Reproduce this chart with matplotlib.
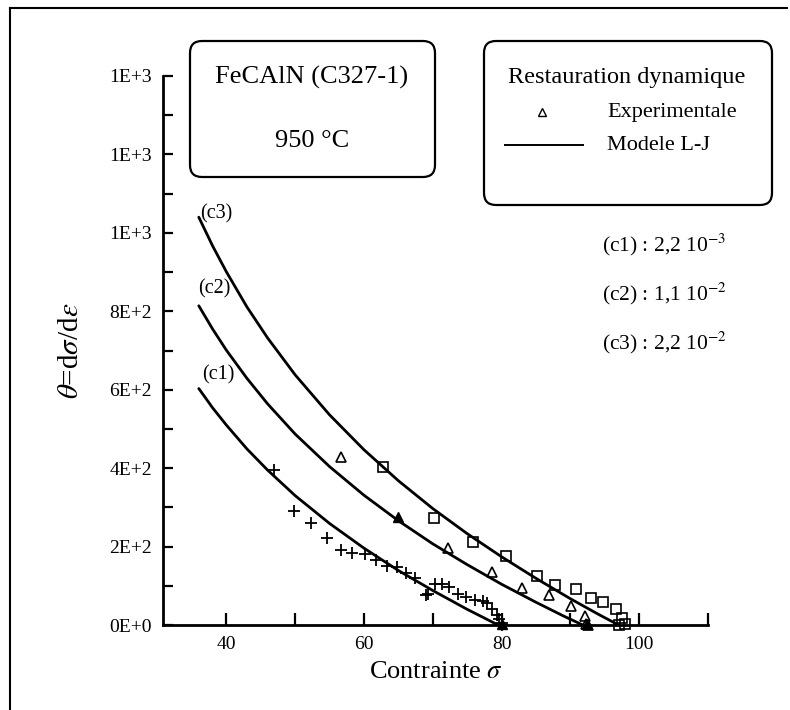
import matplotlib
matplotlib.use('Agg')
import matplotlib.pyplot as plt
from matplotlib.patches import FancyBboxPatch
from matplotlib.lines import Line2D

plt.rcParams['font.family'] = ['Liberation Serif', 'DejaVu Serif']
plt.rcParams['mathtext.fontset'] = 'stix'

# model curves (Laasraoui-Jonas)
c1_x = [36, 38, 40, 43, 46, 50, 55, 60, 65, 70, 75, 79.5]
c1_y = [603, 554, 510, 449, 395, 330, 259, 196, 139, 88, 40, 0]
c2_x = [36, 38, 40, 43, 46, 50, 55, 60, 65, 70, 75, 80, 85, 89, 91.8]
c2_y = [814, 755, 701, 629, 564, 487, 404, 331, 266, 207, 154, 104, 58, 23, 0]
c3_x = [36, 38, 40, 43, 46, 50, 55, 60, 65, 70, 75, 80, 85, 90, 94, 97]
c3_y = [1040, 967, 901, 811, 732, 638, 536, 447, 368, 297, 233, 174, 119, 67, 28, 0]

# experimental points
cross_x = [47.0, 49.9, 52.3, 54.6, 56.6, 58.3, 60.1, 61.8, 63.3, 64.8, 66.1, 67.4,
           69.0, 69.3, 70.3, 71.3, 72.4, 73.6, 74.9, 76.2, 77.3, 77.9, 78.6,
           79.3, 79.7, 80.0, 80.1]
cross_y = [396, 291, 259, 222, 192, 184, 182, 166, 151, 147, 132, 121,
           76, 79, 104, 104, 97, 78, 72, 64, 60, 55, 40,
           25, 15, 6, 0]
tri_x = [56.6, 72.2, 78.6, 82.9, 86.9, 90.1, 92.1, 92.3, 92.6]
tri_y = [428, 196, 135, 94, 77, 49, 23, 3, 0]
tri_full_x = [65.0, 80.0, 92.4]
tri_full_y = [276, 3, 2]
sq_x = [62.8, 70.2, 75.9, 80.7, 85.1, 87.8, 90.8, 93.0, 94.8, 96.6, 97.5, 97.9, 97.0]
sq_y = [403, 273, 212, 176, 126, 102, 92, 69, 59, 42, 17, 3, 0]

xticks = [40, 60, 80, 100]
xminor = [50, 70, 90, 110]
yticks = [0, 200, 400, 600, 800, 1000, 1200, 1400]
ylabels = ['0E+0', '2E+2', '4E+2', '6E+2', '8E+2', '1E+3', '1E+3', '1E+3']
yminor = [100, 300, 500, 700, 900, 1100, 1300]

W, H = 790, 710


def fx(px):
    return px / W


def fy(py):
    return 1 - py / H


fig = plt.figure(figsize=(7.9, 7.1), dpi=100)
ax = fig.add_axes([fx(163), fy(625), fx(708) - fx(163), fy(76) - fy(625)])

for xs, ys in [(c1_x, c1_y), (c2_x, c2_y), (c3_x, c3_y)]:
    ax.plot(xs, ys, color='k', lw=2.0, solid_capstyle='round')

ax.plot(cross_x, cross_y, ls='none', marker='+', ms=8, mew=1.3, color='k', clip_on=False)
ax.plot(tri_x, tri_y, ls='none', marker='^', ms=7, mfc='none', mec='k', mew=1.2, clip_on=False)
ax.plot(tri_full_x, tri_full_y, ls='none', marker='^', ms=7, color='k', clip_on=False)
ax.plot(sq_x, sq_y, ls='none', marker='s', ms=6.5, mfc='none', mec='k', mew=1.2, clip_on=False)

ax.text(36.2, 1048, '(c3)', fontsize=14.5, va='center')
ax.text(35.9, 858, '(c2)', fontsize=14.5, va='center')
ax.text(36.5, 638, '(c1)', fontsize=14.5, va='center')

ax.set_xlim(30.8, 110)
ax.set_ylim(0, 1400)
ax.set_xticks(xticks)
ax.set_xticks(xminor, minor=True)
ax.set_yticks(yticks)
ax.set_yticklabels(ylabels)
ax.set_yticks(yminor, minor=True)
ax.tick_params(axis='both', which='both', direction='in', width=1.6, labelsize=14, colors='k')
ax.tick_params(axis='x', which='both', length=9, pad=8)
ax.tick_params(axis='y', which='both', length=7, pad=8)

for s in ['top', 'right']:
    ax.spines[s].set_visible(False)
for s in ['left', 'bottom']:
    ax.spines[s].set_linewidth(2)

ax.set_xlabel(r'Contrainte $\sigma$', fontsize=19)
ax.xaxis.label.set_va('center')
ax.xaxis.set_label_coords(0.5, -(672 - 625) / (625 - 76))
ax.set_ylabel(r'$\theta$=d$\sigma$/d$\varepsilon$', fontsize=21)
ax.yaxis.label.set_va('center')
ax.yaxis.set_label_coords(-(163 - 71) / (708 - 163), 0.5)

# boxes (in inches from bottom-left)
box1 = FancyBboxPatch((1.90, (H - 177) / 100), 2.45, 1.36,
                      boxstyle='round,pad=0,rounding_size=0.12',
                      transform=fig.dpi_scale_trans, fc='none', ec='k', lw=1.6)
box2 = FancyBboxPatch((4.84, (H - 205) / 100), 2.88, 1.64,
                      boxstyle='round,pad=0,rounding_size=0.12',
                      transform=fig.dpi_scale_trans, fc='none', ec='k', lw=1.6)
fig.add_artist(box1)
fig.add_artist(box2)

fig.text(fx(312), fy(77), 'FeCAlN (C327-1)', fontsize=19, ha='center', va='center')
fig.text(fx(312), fy(141), '950 °C', fontsize=19, ha='center', va='center')

fig.text(fx(627), fy(78), 'Restauration dynamique', fontsize=17.5, ha='center', va='center')
fig.add_artist(Line2D([fx(542)], [fy(112)], marker='^', ms=6, mfc='none', mec='k', mew=1))
fig.text(fx(607), fy(112), 'Experimentale', fontsize=16, va='center')
fig.add_artist(Line2D([fx(505), fx(583)], [fy(145), fy(145)], color='k', lw=1.4))
fig.text(fx(607), fy(145), 'Modele L-J', fontsize=16, va='center')

fig.text(fx(602), fy(245), '(c1) : 2,2 10$^{-3}$', fontsize=15.5, va='center')
fig.text(fx(602), fy(294), '(c2) : 1,1 10$^{-2}$', fontsize=15.5, va='center')
fig.text(fx(602), fy(343), '(c3) : 2,2 10$^{-2}$', fontsize=15.5, va='center')

# outer frame (top and left edges only)
fig.add_artist(Line2D([fx(10), fx(787)], [fy(8), fy(8)], color='k', lw=1.5))
fig.add_artist(Line2D([fx(10), fx(10)], [fy(8), 0], color='k', lw=1.5))

fig.savefig('out.png', dpi=100)
